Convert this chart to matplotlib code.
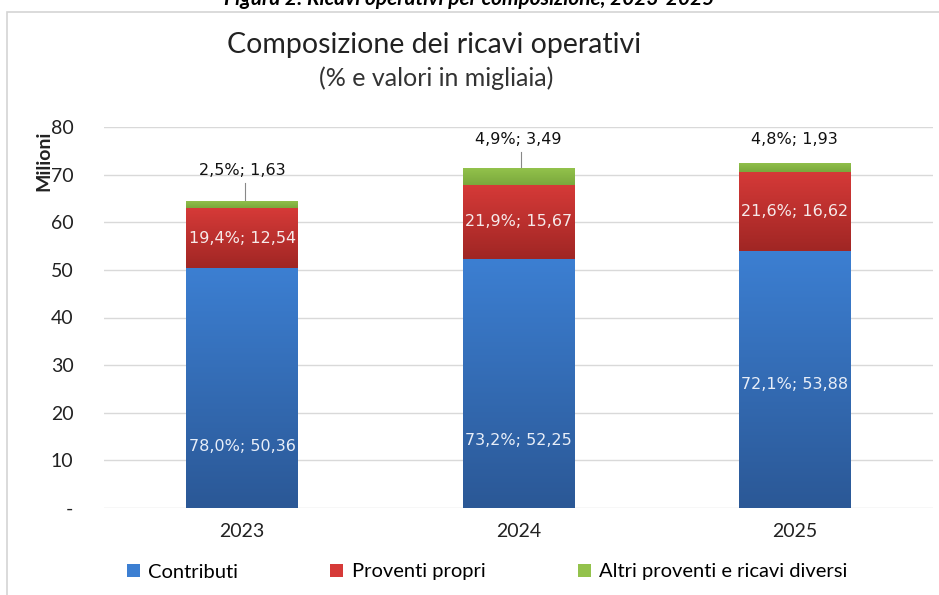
import matplotlib.pyplot as plt
import numpy as np
from matplotlib.colors import LinearSegmentedColormap
from matplotlib.patches import Patch, Rectangle

# data (millions)
years = ["2023", "2024", "2025"]
contributi = [50.36, 52.25, 53.88]
proventi = [12.54, 15.67, 16.62]
altri = [1.63, 3.49, 1.93]
pct_contributi = ["78,0%", "73,2%", "72,1%"]
pct_proventi = ["19,4%", "21,9%", "21,6%"]
pct_altri = ["2,5%", "4,9%", "4,8%"]
yticks = [0, 10, 20, 30, 40, 50, 60, 70, 80]
ytick_labels = ["-", "10", "20", "30", "40", "50", "60", "70", "80"]

# label placement (as in the Excel original)
contrib_label_y = [13.0, 14.1, 26.0]
altri_label_y = [70.8, 77.3, 77.3]

FONT = "Lato"
LABEL_FONT = "DejaVu Sans"

BLUE = ("#3c7fd2", "#2b5896")
RED = ("#d63a38", "#a02624")
GREEN = ("#93c24c", "#7aa83c")


def fmt(v):
    return f"{v:.2f}".replace(".", ",")


def gradient_fill(ax, bar, top, bottom):
    x0, y0 = bar.get_x(), bar.get_y()
    w, h = bar.get_width(), bar.get_height()
    cmap = LinearSegmentedColormap.from_list("grad", [bottom, top])
    grad = np.linspace(0, 1, 256).reshape(-1, 1)
    im = ax.imshow(grad, cmap=cmap, extent=(x0, x0 + w, y0, y0 + h),
                   origin="lower", aspect="auto", zorder=3, interpolation="bilinear")
    im.set_clip_path(bar)


fig = plt.figure(figsize=(9.39, 5.95), dpi=100)
fig.patch.set_facecolor("white")

# chart frame
fig.patches.append(Rectangle((7 / 939, -0.01), 1.0, 1 - 12 / 595 + 0.01,
                             transform=fig.transFigure, fill=False,
                             edgecolor="#d4d4d4", linewidth=1.2))

# caption of the document above the chart (cut off at the top, as in the original)
fig.text(0.5, 1 - 5 / 595, "Figura 2: Ricavi operativi per composizione, 2023-2025",
         ha="center", va="baseline", fontsize=15, fontweight="bold",
         fontstyle="italic", family=FONT)

ax = fig.add_axes([104 / 939, 1 - 508 / 595, 829 / 939, 381 / 595])

x = np.arange(len(years))
width = 0.405
bottom_p = np.array(contributi)
bottom_a = bottom_p + np.array(proventi)

bars_c = ax.bar(x, contributi, width, color=BLUE[0], zorder=2, linewidth=0)
bars_p = ax.bar(x, proventi, width, bottom=bottom_p, color=RED[0], zorder=2, linewidth=0)
bars_a = ax.bar(x, altri, width, bottom=bottom_a, color=GREEN[0], zorder=2, linewidth=0)

for bars, cols in [(bars_c, BLUE), (bars_p, RED), (bars_a, GREEN)]:
    for b in bars:
        gradient_fill(ax, b, cols[0], cols[1])

ax.set_xlim(-0.5, 2.5)
ax.set_ylim(0, 80)
ax.set_yticks(yticks)
ax.set_yticklabels(ytick_labels)
ax.set_xticks(x)
ax.set_xticklabels(years)
ax.tick_params(axis="both", length=0, labelsize=14, colors="#222222")
ax.tick_params(axis="y", pad=22)
ax.tick_params(axis="x", pad=11)
for lab in ax.get_xticklabels() + ax.get_yticklabels():
    lab.set_family(FONT)
ax.grid(axis="y", color="#d9d9d9", linewidth=1, zorder=0)
ax.set_axisbelow(True)
for s in ax.spines.values():
    s.set_visible(False)

fig.text(44 / 939, 1 - 161 / 595, "Milioni", rotation=90, ha="center", va="center",
         fontsize=14, fontweight="bold", family=FONT, color="#222222")

# data labels
for i in range(len(years)):
    ax.text(x[i], contrib_label_y[i], f"{pct_contributi[i]}; {fmt(contributi[i])}",
            ha="center", va="center", fontsize=11.5, color="#e8eef8",
            family=LABEL_FONT, zorder=5)
    ax.text(x[i], bottom_p[i] + proventi[i] / 2, f"{pct_proventi[i]}; {fmt(proventi[i])}",
            ha="center", va="center", fontsize=11.5, color="#f6eaea",
            family=LABEL_FONT, zorder=5)
    ax.text(x[i], altri_label_y[i], f"{pct_altri[i]}; {fmt(altri[i])}",
            ha="center", va="center", fontsize=11.5, color="#111111",
            family=LABEL_FONT, zorder=5)
    top = bottom_a[i] + altri[i]
    if altri_label_y[i] - top > 5.0:
        ax.plot([x[i] + 0.01, x[i] + 0.01], [altri_label_y[i] - 2.5, top + 0.2],
                color="#888888", linewidth=0.8, zorder=5)

# titles
fig.text(434 / 939, 1 - 45 / 595, "Composizione dei ricavi operativi",
         ha="center", va="center", fontsize=20.5, family=FONT, color="#222222")
fig.text(436 / 939, 1 - 78 / 595, "(% e valori in migliaia)",
         ha="center", va="center", fontsize=18, family=FONT, color="#333333")

handles = [Patch(facecolor=BLUE[0]), Patch(facecolor=RED[0]), Patch(facecolor=GREEN[0])]
fig.legend(handles, ["Contributi", "Proventi propri", "Altri proventi e ricavi diversi"],
           loc="center", bbox_to_anchor=(487 / 939, 1 - 572 / 595), ncol=3,
           frameon=False, handlelength=0.65, handleheight=0.65, handletextpad=0.4,
           columnspacing=4.6, prop={"family": FONT, "size": 14.5})

fig.savefig("out.png", dpi=100)
